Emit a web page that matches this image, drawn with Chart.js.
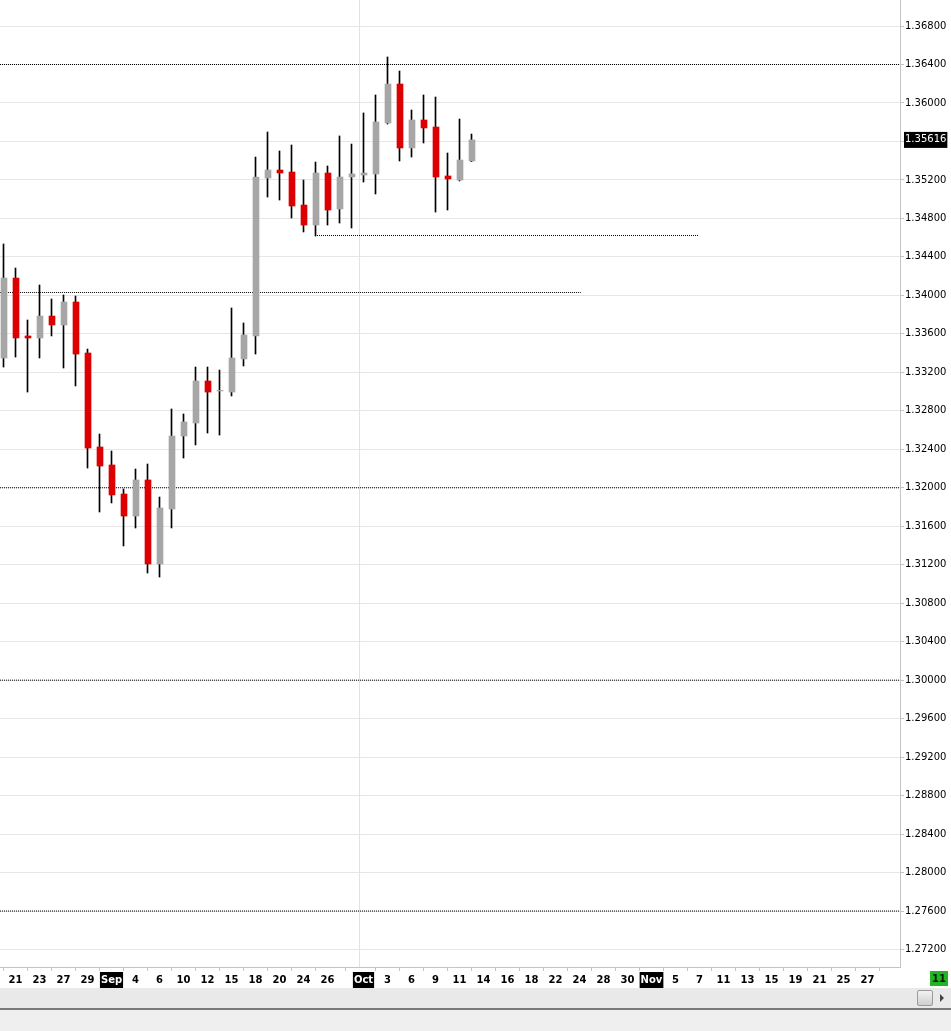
<!DOCTYPE html>
<html>
<head>
<meta charset="utf-8">
<script src="https://cdn.jsdelivr.net/npm/chart.js@4.4.0/dist/chart.umd.min.js"></script>
<style>
  body { margin: 0; width: 951px; height: 1031px; overflow: hidden; background: #fff; position: relative; font-family: "DejaVu Sans", sans-serif; }
  #wrap { position: absolute; left: 0; top: 0; width: 951px; height: 988px; }
  #bar { position: absolute; left: 0; top: 988px; width: 951px; height: 20px; background: #e9e9e9; }
  #thumb { position: absolute; left: 917px; top: 2px; width: 14px; height: 14px; border: 1px solid #9a9a9a; border-radius: 2px; background: linear-gradient(#f2f2f2, #cfcfcf); }
  #arrow { position: absolute; left: 940px; top: 6px; width: 0; height: 0; border-top: 4px solid transparent; border-bottom: 4px solid transparent; border-left: 4px solid #444; }
  #rule { position: absolute; left: 0; top: 1008px; width: 951px; height: 2px; background: #7a7a7a; }
  #foot { position: absolute; left: 0; top: 1010px; width: 951px; height: 21px; background: #efefef; }
  #today { position: absolute; left: 930px; top: 971px; width: 18px; height: 15px; background: #22b422; color: #0b1f0b; font: bold 10px "DejaVu Sans", sans-serif; text-align: center; line-height: 16px; }
</style>
</head>
<body>
<div id="wrap"><canvas id="c"></canvas></div>
<div id="today">11</div>
<div id="bar"><div id="thumb"></div><div id="arrow"></div></div>
<div id="rule"></div>
<div id="foot"></div>
<script>
// daily candles, index 0 = Aug 20
const opens = [1.33349, 1.34180, 1.33578, 1.33557, 1.33785, 1.33692, 1.33931, 1.33401, 1.32424, 1.32237,
  1.31935, 1.31706, 1.32081, 1.31208, 1.31779, 1.32538, 1.32673, 1.33110, 1.33006, 1.32995,
  1.33339, 1.33578, 1.35220, 1.35303, 1.35282, 1.34939, 1.34731, 1.35272, 1.34898, 1.35230,
  1.35251, 1.35262, 1.35792, 1.36197, 1.35532, 1.35823, 1.35750, 1.35241, 1.35199, 1.35397]
const highs = [1.34534, 1.34284, 1.33744, 1.34108, 1.33962, 1.34004, 1.33993, 1.33442, 1.32559, 1.32382,
  1.31987, 1.32195, 1.32247, 1.31904, 1.32819, 1.32767, 1.33255, 1.33255, 1.33224, 1.33869,
  1.33713, 1.35438, 1.35698, 1.35501, 1.35563, 1.35199, 1.35386, 1.35345, 1.35657, 1.35573,
  1.35896, 1.36083, 1.36478, 1.36332, 1.35927, 1.36083, 1.36062, 1.35480, 1.35833, 1.35677]
const lows = [1.33255, 1.33359, 1.32995, 1.33349, 1.33578, 1.33245, 1.33058, 1.32205, 1.31748, 1.31842,
  1.31395, 1.31582, 1.31114, 1.31072, 1.31582, 1.32309, 1.32445, 1.32569, 1.32548, 1.32954,
  1.33266, 1.33390, 1.35022, 1.34991, 1.34804, 1.34659, 1.34617, 1.34731, 1.34752, 1.34700,
  1.35178, 1.35054, 1.35781, 1.35397, 1.35438, 1.35584, 1.34866, 1.34887, 1.35189, 1.35390]
const closes = [1.34180, 1.33557, 1.33557, 1.33785, 1.33692, 1.33931, 1.33390, 1.32413, 1.32226, 1.31925,
  1.31706, 1.32081, 1.31208, 1.31790, 1.32538, 1.32684, 1.33110, 1.32995, 1.33012, 1.33349,
  1.33588, 1.35230, 1.35303, 1.35272, 1.34929, 1.34731, 1.35272, 1.34887, 1.35230, 1.35262,
  1.35272, 1.35802, 1.36197, 1.35532, 1.35823, 1.35740, 1.35230, 1.35210, 1.35407, 1.35616]

// date labels on the day axis (slot index -> text)
const labelIdx = [1, 3, 5, 7, 9, 11, 13, 15, 17, 19, 21, 23, 25, 27, 30, 32, 34, 36, 38, 40,
  42, 44, 46, 48, 50, 52, 54, 56, 58, 60, 62, 64, 66, 68, 70, 72]
const labelText = ['21', '23', '27', '29', 'Sep', '4', '6', '10', '12', '15', '18', '20', '24', '26', 'Oct', '3', '6', '9', '11', '14',
  '16', '18', '22', '24', '28', '30', 'Nov', '5', '7', '11', '13', '15', '19', '21', '25', '27']
const months = ['Sep', 'Oct', 'Nov']
const monthSplit = 29.67 // Sep/Oct boundary

// price scale
const priceMin = 1.272, priceMax = 1.368, priceStep = 0.004
const lastClose = closes[closes.length - 1]

// horizontal levels: full width, and segments [value, fromIdx, toIdx]
const levels = [1.364, 1.32, 1.30, 1.276]
const segments = [[1.34622, 25.96, 57.9], [1.34030, -0.3, 48.1]]

const slots = 75
const xMin = -3.5 / 12
const xMax = xMin + slots
const yMax = 1.370703, yMin = 1.270184
const bodyShift = 0.5 / 12

const up = '#a6a6a6', down = '#dc0000'
const colors = opens.map((o, i) => closes[i] >= o ? up : down)

const datasets = []
datasets.push({
  type: 'bar', label: 'body', order: 0, grouped: false, barThickness: 6,
  data: opens.map((o, i) => ({ x: i + bodyShift, y: [o, closes[i]] })),
  backgroundColor: colors, borderWidth: 0
})
datasets.push({
  type: 'bar', label: 'wick', order: 1, grouped: false, barThickness: 1,
  data: lows.map((l, i) => ({ x: i, y: [l, highs[i]] })),
  backgroundColor: '#000', borderWidth: 0
})
levels.forEach(v => datasets.push({
  type: 'line', order: 2, data: [{ x: xMin, y: v }, { x: xMax, y: v }],
  borderColor: '#000', borderWidth: 1, borderDash: [1, 1], pointRadius: 0
}))
segments.forEach(s => datasets.push({
  type: 'line', order: 2, data: [{ x: s[1], y: s[0] }, { x: s[2], y: s[0] }],
  borderColor: '#000', borderWidth: 1, borderDash: [1, 1], pointRadius: 0
}))
datasets.push({
  type: 'line', order: 3, data: [{ x: monthSplit, y: yMin }, { x: monthSplit, y: yMax }],
  borderColor: '#e2e2e2', borderWidth: 1, pointRadius: 0
})

const isMonth = v => months.includes(labelText[labelIdx.indexOf(v)])

new Chart(document.getElementById('c'), {
  type: 'bar',
  data: { datasets },
  options: {
    responsive: true,
    maintainAspectRatio: false,
    animation: false,
    layout: { padding: 0 },
    plugins: { legend: { display: false }, tooltip: { enabled: false } },
    scales: {
      x: {
        type: 'linear', min: xMin, max: xMax, offset: false,
        afterBuildTicks: s => { s.ticks = labelIdx.map(v => ({ value: v })) },
        afterFit: s => { s.height = 21; s.paddingLeft = 0; s.paddingRight = 0 },
        border: { color: '#c4c4c4' },
        grid: { drawOnChartArea: false, tickLength: 4, color: '#c4c4c4' },
        ticks: {
          autoSkip: false, maxRotation: 0, padding: 3,
          callback: v => labelText[labelIdx.indexOf(v)],
          font: { family: 'DejaVu Sans', size: 10, weight: 'bold' },
          color: ctx => isMonth(ctx.tick.value) ? '#fff' : '#000',
          showLabelBackdrop: ctx => isMonth(ctx.tick.value),
          backdropColor: '#000',
          backdropPadding: { x: 1, y: 2 }
        }
      },
      y: {
        position: 'right', min: yMin, max: yMax,
        afterBuildTicks: s => {
          const t = []
          for (let k = 0; k <= Math.round((priceMax - priceMin) / priceStep); k++)
            t.push({ value: Math.round((priceMin + k * priceStep) * 1e5) / 1e5 })
          t.push({ value: lastClose })
          s.ticks = t
        },
        afterFit: s => { s.width = 51; s.paddingTop = 0; s.paddingBottom = 0 },
        border: { color: '#c4c4c4' },
        grid: {
          tickLength: 4,
          color: ctx => ctx.tick && ctx.tick.value === lastClose ? 'rgba(0,0,0,0)' : '#e6e6e6',
          tickColor: ctx => ctx.tick && ctx.tick.value === lastClose ? 'rgba(0,0,0,0)' : '#c4c4c4'
        },
        ticks: {
          padding: 1,
          callback: v => {
            if (v === lastClose) return v.toFixed(5)
            if (Math.abs(v - lastClose) < 0.002) return ''
            return v.toFixed(5)
          },
          font: { family: 'DejaVu Sans', size: 10 },
          color: ctx => ctx.tick.value === lastClose ? '#fff' : '#000',
          showLabelBackdrop: ctx => ctx.tick.value === lastClose,
          backdropColor: '#000',
          backdropPadding: { x: 1, y: 2 }
        }
      }
    }
  }
})
</script>
</body>
</html>
